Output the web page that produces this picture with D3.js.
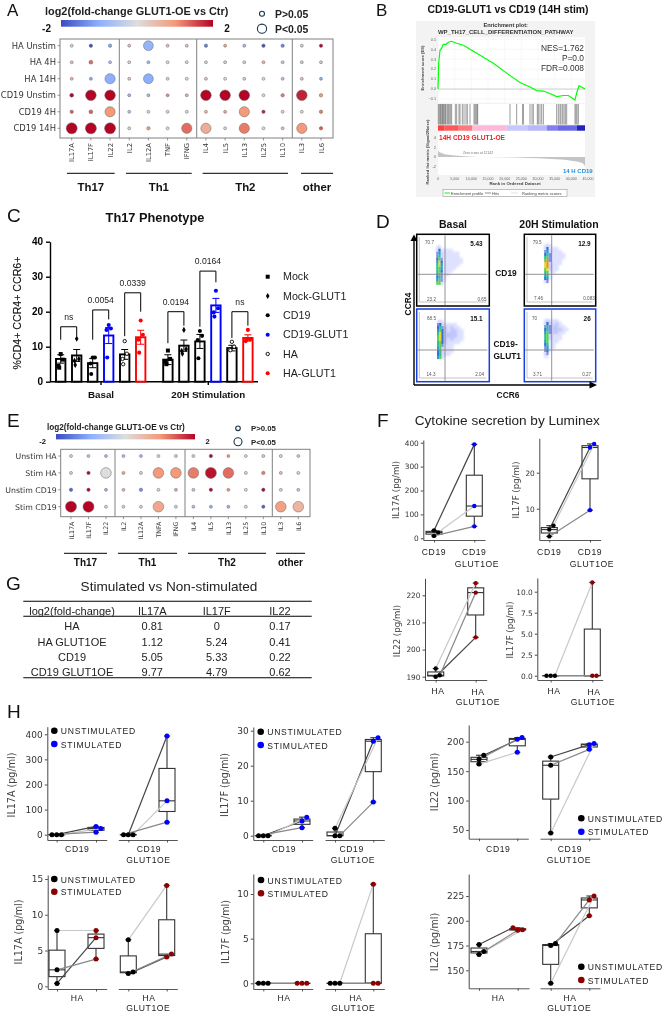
<!DOCTYPE html>
<html><head><meta charset="utf-8">
<script src="https://cdnjs.cloudflare.com/ajax/libs/d3/7.8.5/d3.min.js"></script>
<style>html,body{margin:0;padding:0;background:#fff}svg{display:block;filter:blur(.3px)}</style>
</head><body><svg id="fig" width="663" height="1013"></svg>
<script>
// ---------- DATA ----------
const aRows=["HA Unstim","HA 4H","HA 14H","CD19 Unstim","CD19 4H","CD19 14H"];
const aCols=["IL17A","IL17F","IL22","IL2","IL12A","TNF","IFNG","IL4","IL5","IL13","IL25","IL10","IL3","IL6"];
const aValues=[
[.3,-2,-1.1,.5,-.9,.5,.5,-1.5,.9,-.9,-1.9,-1.4,.3,2],
[.4,1.3,-.6,.3,-.8,.1,.1,.2,-.3,.3,.6,-.4,.3,-.3],
[.6,-1,-1,.4,-1,-.2,-.1,.4,-.1,.3,-.1,-.6,.4,-1],
[2,2,2,-.9,-.8,1.1,.7,2,2,2,-.1,1.2,1.8,1],
[1.4,1.4,1,-.6,.2,.2,.1,.6,.8,1,1.8,.3,.1,1.2],
[2,2,2,.2,.9,.1,1.3,.7,-.1,1.2,-.1,.5,1,1.4]];
const aSig=[
[0,.05,.05,0,.85,0,0,.05,0,0,.05,.05,0,.05],
[0,.1,0,0,0,0,0,0,0,0,0,0,0,0],
[0,0,.9,0,.85,0,0,0,0,0,0,0,0,0],
[.1,.95,.95,0,0,0,0,.95,.95,.95,0,.05,.95,.05],
[.05,.1,.9,0,0,0,0,0,0,.9,.05,0,0,.05],
[1,1,1,0,.05,0,.9,.9,0,.9,0,0,.9,.05]];
const eRows=["Unstim HA","Stim HA","Unstim CD19","Stim CD19"];
const eCols=["IL17A","IL17F","IL22","IL2","IL12A","TNFA","IFNG","IL4","IL5","IL13","IL25","IL10","IL3","IL6"];
const eValues=[
[.2,-.5,-.6,-.7,-.7,.2,.2,.3,2,.9,0,.4,.2,-.3],
[.2,2,0,.9,.2,1,1,1.2,1.9,1.3,.1,1.2,.5,.2],
[-1.7,2,-.9,.6,-1.3,.2,.8,-.5,2,1,0,2,-.2,-.5],
[2,2,-.2,-.2,-.2,.8,-.2,-.6,-1,-.9,-.1,-1.8,.9,.6]];
const eSig=[
[0,0,0,0,0,0,0,0,.05,0,0,0,0,0],
[0,.05,.95,0,0,.95,.95,.95,1,.95,0,.05,0,0],
[.05,.05,0,0,.05,0,0,0,.05,0,0,.05,0,0],
[1,1,0,0,0,.95,0,0,0,0,0,.03,.95,.95]];

const esCurve=[[0,0],[200,.26],[600,.39],[1100,.41],[1600,.45],[2400,.45],[3100,.47],[4100,.48],[5600,.46],[7600,.44],[9600,.40],[12600,.34],[16600,.26],[20600,.16],[24600,.065],[27600,.02],[29600,-.015],[31600,-.02],[33600,-.045],[35600,-.075],[37600,-.065],[39100,-.065],[41100,-.11],[41600,-.04],[42300,.035],[44100,0]];
const hitRanks=[100,400,700,900,1200,1400,1600,1900,2200,2400,2800,3100,3400,3800,4100,5200,5600,6300,6600,7300,7800,8400,8800,9600,10800,11100,11400,11700,11900,21600,23600,25400,25600,27600,28200,28600,29800,30100,30600,31100,31600,35600,36100,36600,36900,37400,37800,38200,38600,41100,41400,41700,42100];
const rankStrip=[[0,2000,'#ff4040'],[2000,6000,'#ff5858'],[6000,10200,'#ff7a7a'],[10200,20600,'#ffb8d8'],[20600,27000,'#c8c8ff'],[27000,32600,'#b8b8f8'],[32600,36000,'#8080f0'],[36000,41600,'#6a6ae8'],[41600,44100,'#2222c0']];
const rankMetric=[[0,1.4],[300,1.0],[2000,.55],[5000,.3],[8000,.15],[12142,0],[20000,-.08],[30000,-.3],[38000,-.6],[42000,-1],[43500,-1.3],[44100,-1.9]];
const esTicks=[-.1,0,.1,.2,.3,.4,.5], rankTicks=d3.range(0,45001,5000), metricTicks=[-2,0,2,4];

const cGroups=["Mock","Mock-GLUT1","CD19","CD19-GLUT1","HA","HA-GLUT1"];
const cColors=["#000","#000","#000","#00f","#000","#f00"];
const cMeans=[6.5,7.5,5.3,13.2,7.8,12.7,6.3,10.3,11.5,21.8,9.6,12.5];
const cErrs=[1.2,1.7,1.3,2.3,1.4,2,1.4,1.6,2,2,.8,.9];
const cDots=[[7.9,6.3,4.5,4],[12.3,6.5,6,4.8],[6.9,6.9,5.2,2.2],[16.2,15.2,14.8,6.9],[11.6,8,6.5,5],[17.5,13.4,12,8.3],
[8.9,6.5,5.7,5],[14.8,9.3,8.8,8],[14.5,13.1,11.9,6.7],[26,21,19.8,18.6],[11.4,10,9.2,9],[14.8,12.1,11.6,11.9]];
const cBrackets=[["ns",0,1,15.7,12,13],["0.0054",2,3,20.5,12,17.8],["0.0339",4,5,25.4,13,20],["0.0194",6,7,20,11,16],["0.0164",8,9,31.6,15.7,28.4],["ns",10,11,20,12.5,16]];
const cTicks=[0,10,20,30,40];

const flowBasalCd19=["120000000","241111000","352111110","362111110","473111111","584111111","685111110","675111100","674111000","573110000","463100000","573100000","772000000"];
const flowStimCd19=["012100000","024111000","035211100","046311110","067311110","079311100","089211100","089211000","078211000","067110000","056100000","045100000","023000000"];
const flowBasalGlut=["121000000","342111100","463212110","574212211","684222211","784222211","784212111","674211110","673111000","572111000","462111000","462110000","572000000"];
const flowStimGlut=["012111000","024212100","036322110","046322211","057322110","067211100","067211100","057111000","046110000","035110000","034100000","023000000","011000000"];
const flowGates=[["70.7","5.43","23.2","0.65"],["79.5","12.9","7.46","0.083"],["68.5","15.1","14.3","2.04"],["70","26","3.71","0.27"]];

const gHead=["log2(fold-change)","IL17A","IL17F","IL22"];
const gRowNames=["HA","HA GLUT1OE","CD19","CD19 GLUT1OE"];
const gIl17a=["0.81","1.12","5.05","9.77"],gIl17f=["0","5.24","5.33","4.79"],gIl22=["0.17","0.41","0.22","0.62"];

// cytokine values: index 0 / 1 / 2 is the same donor before and after
const z3=[0,0,0];
const cd19Il17aStim=[33,25,10],cd19gIl17aStim=[393,135,50];
const cd19Il17fStim=[4.2,5.3,2.3],cd19gIl17fStim=[27,28,9.6],cd19gIl17fUn=[0,2.1,0];
const haIl22Stim=[190,193,190.5],hagIl22Stim=[204.5,224.5,221];
const hagIl17fStim=[0,11.1,0];
const cd19Il22Un=[177,162,170],cd19Il22Stim=[207,182,204],cd19gIl22Un=[174,45,160],cd19gIl22Stim=[195,197,187];
const haIl17aUn=[.4,7.8,2.3],haIl17aStim=[6.8,7.8,3.8],hagIl17aUn=[2,6.5,1.8],hagIl17aStim=[4.1,14.1,4.5];
const haIl22Un=[176,166,169],haIl22StimB=[193,191,190.5],hagIl22Un=[175,137,177],hagIl22StimB=[205,225,221];
const donorGreys=["#444","#c8c8c8","#888"];

// ---------- HELPERS ----------
const ARIAL='"Liberation Sans",Arial,sans-serif', DEJA='"DejaVu Sans",sans-serif';
const svg=d3.select("#fig");
function T(p,x,y,s,size,o={}){
  const t=p.append("text").attr("x",x).attr("y",y).text(s)
   .attr("font-family",o.font||ARIAL).attr("font-size",size).attr("fill",o.fill||"#111")
   .attr("text-anchor",o.anchor||"start");
  if(o.bold)t.attr("font-weight","bold");
  if(o.rot!=null)t.attr("transform",`rotate(${o.rot} ${x} ${y})`);
  if(o.ls)t.attr("letter-spacing",o.ls);
  return t;
}
const L=(p,x1,y1,x2,y2,c="#000",w=1)=>p.append("line").attr("x1",x1).attr("y1",y1).attr("x2",x2).attr("y2",y2).attr("stroke",c).attr("stroke-width",w);
const coolStops=["#3b4cc0","#8db0fe","#dddddd","#f49a7b","#b40426"];
const cool=d3.scaleLinear().domain([-2,-1,0,1,2]).range(coolStops);
const rSig=d3.scaleLinear().domain([0,1]).range([1.5,5.5]);

const defs=svg.append("defs");
const grad=defs.append("linearGradient").attr("id","cool");
grad.selectAll("stop").data(coolStops).join("stop").attr("offset",(d,i)=>i*25+"%").attr("stop-color",d=>d);
defs.append("filter").attr("id","soft").append("feGaussianBlur").attr("stdDeviation",.45);
defs.append("filter").attr("id","softer").append("feGaussianBlur").attr("stdDeviation",1.3);

[["A",7,16,17],["B",376,16,17],["C",7,222,19],["D",376,228,19],["E",7,427,19],["F",377,427,19],["G",6,590,19],["H",7,718,19]].forEach(d=>T(svg,d[1],d[2],d[0],d[3]));

function bubble(cfg){
  const g=svg.append("g");
  const x=d3.scalePoint().domain(cfg.cols).range(cfg.xr);
  const y=d3.scalePoint().domain(cfg.rows).range(cfg.yr);
  const cells=cfg.values.flatMap((r,i)=>r.map((v,j)=>({v,s:cfg.sig[i][j],row:cfg.rows[i],col:cfg.cols[j]})));
  g.append("rect").attr("x",cfg.box[0]).attr("y",cfg.box[1]).attr("width",cfg.box[2]-cfg.box[0]).attr("height",cfg.box[3]-cfg.box[1]).attr("fill","#fff").attr("stroke","#808080").attr("stroke-width",1);
  cfg.seps.forEach(s=>L(g,s,cfg.box[1],s,cfg.box[3],"#808080",1));
  g.selectAll("circle").data(cells).join("circle").attr("cx",d=>x(d.col)).attr("cy",d=>y(d.row))
   .attr("r",d=>rSig(d.s)).attr("fill",d=>cool(d.v)).attr("stroke","#666").attr("stroke-width",.5);
  g.selectAll(".rl").data(cfg.rows).join("text").attr("class","rl").attr("x",cfg.box[0]-4).attr("y",d=>y(d)+3).attr("text-anchor","end").attr("font-family",DEJA).attr("font-size",cfg.rowSize).attr("fill","#333").text(d=>d);
  g.selectAll(".rt").data(cfg.rows).join("line").attr("class","rt").attr("x1",cfg.box[0]-2.5).attr("x2",cfg.box[0]).attr("y1",d=>y(d)).attr("y2",d=>y(d)).attr("stroke","#555").attr("stroke-width",.6);
  g.selectAll(".ct").data(cfg.cols).join("line").attr("class","ct").attr("y1",cfg.box[3]).attr("y2",cfg.box[3]+2.5).attr("x1",d=>x(d)).attr("x2",d=>x(d)).attr("stroke","#555").attr("stroke-width",.6);
  g.selectAll(".cl").data(cfg.cols).join("text").attr("class","cl").attr("text-anchor","end").attr("font-family",DEJA).attr("font-size",cfg.colSize).attr("fill","#333")
   .attr("transform",d=>`translate(${x(d)+2.5},${cfg.box[3]+5}) rotate(-90)`).text(d=>d);
  g.append("rect").attr("x",cfg.bar[0]).attr("y",cfg.bar[1]).attr("width",cfg.bar[2]).attr("height",cfg.bar[3]).attr("fill","url(#cool)");
  T(g,cfg.title[0],cfg.title[1],"log2(fold-change GLUT1-OE vs Ctr)",cfg.title[2],{bold:1,fill:"#222"});
  T(g,cfg.lo[0],cfg.lo[1],"-2",cfg.lo[2],{bold:1,anchor:"middle"});
  T(g,cfg.hi[0],cfg.lo[1],"2",cfg.lo[2],{bold:1,anchor:"middle"});
  cfg.leg.forEach(d=>{
    g.append("circle").attr("cx",cfg.legX).attr("cy",d[0]).attr("r",d[1]).attr("fill","#fff").attr("stroke","#16384d").attr("stroke-width",1.1);
    T(g,cfg.legX+cfg.legDx,d[0]+cfg.legSize*.37,d[2],cfg.legSize,{bold:1,fill:"#222"});
  });
  cfg.groups.forEach(d=>{L(g,d[0],cfg.gy,d[1],cfg.gy,"#000",1);T(g,(d[0]+d[1])/2,cfg.gly,d[2],cfg.gSize,{bold:1,anchor:"middle"});});
}
bubble({rows:aRows,cols:aCols,values:aValues,sig:aSig,box:[60,39,333,138],xr:[71.7,321],yr:[45.7,128.3],seps:[119.3,196.7,292.3],rowSize:8.4,colSize:6.8,
 bar:[61,20,152,6.7],title:[45,15,10.9],lo:[46.5,32,10],hi:[227],leg:[[13.7,2.5,"P>0.05"],[28.7,4.6,"P<0.05"]],legX:262,legDx:13,legSize:10.4,
 groups:[[67,114.7,"Th17"],[126,191.7,"Th1"],[202.7,288,"Th2"],[301,333,"other"]],gy:173.3,gly:191,gSize:11.4});
bubble({rows:eRows,cols:eCols,values:eValues,sig:eSig,box:[60.7,449.3,310,516.7],xr:[71,298.3],yr:[456,506.7],seps:[115,185,272.3],rowSize:7.8,colSize:6.3,
 bar:[56,434,139,5.4],title:[47,430,8.2],lo:[42.5,444,7.5],hi:[207.7],leg:[[428.3,2.3,"P>0.05"],[441.7,4,"P<0.05"]],legX:238,legDx:13,legSize:7.8,
 groups:[[64,107,"Th17"],[118,177,"Th1"],[188,266,"Th2"],[276,305,"other"]],gy:553.3,gly:566,gSize:10});

// ---------- B ----------
(function(){
 const g=svg.append("g");
 T(g,508,13,"CD19-GLUT1 vs CD19 (14H stim)",10.4,{bold:1,anchor:"middle"});
 g.append("rect").attr("x",416).attr("y",21).attr("width",179).attr("height",176).attr("fill","#f3f3f3");
 const x=d3.scaleLinear().domain([0,45000]).range([438,588]);
 const yES=d3.scaleLinear().domain([-.1,.5]).range([99,39.3]);
 const yM=d3.scaleLinear().domain([-2,4]).range([166.7,137.3]);
 [[37.3,102.7],[104,124.5],[131,175]].forEach(d=>g.append("rect").attr("x",438).attr("y",d[0]).attr("width",147).attr("height",d[1]-d[0]).attr("fill","#fff"));
 T(g,505.7,26.5,"Enrichment plot:",5.6,{bold:1,anchor:"middle",fill:"#333"});
 T(g,505.7,34,"WP_TH17_CELL_DIFFERENTIATION_PATHWAY",6,{bold:1,anchor:"middle",fill:"#333"});
 g.selectAll(".gv").data(rankTicks.filter(d=>d<=44000)).join("line").attr("class","gv").attr("x1",d=>x(d)).attr("x2",d=>x(d)).attr("y1",37.3).attr("y2",102.7).attr("stroke","#eee").attr("stroke-width",.4);
 g.selectAll(".gh").data(esTicks).join("line").attr("class","gh").attr("x1",438).attr("x2",585).attr("y1",d=>yES(d)).attr("y2",d=>yES(d)).attr("stroke",d=>d==0?"#999":"#eee").attr("stroke-width",.5);
 g.append("path").attr("d",d3.line().x(d=>x(d[0])).y(d=>yES(d[1]))(esCurve)).attr("fill","none").attr("stroke","#0f0").attr("stroke-width",1.2);
 g.selectAll(".es").data(esTicks).join("text").attr("class","es").attr("x",436).attr("y",d=>yES(d)+1.3).attr("text-anchor","end").attr("font-size",3.8).attr("font-family",ARIAL).attr("fill","#666").text(d3.format(".1f"));
 g.selectAll(".hit").data(hitRanks).join("line").attr("class","hit").attr("x1",d=>x(d)).attr("x2",d=>x(d)).attr("y1",104).attr("y2",124.5).attr("stroke","#333").attr("stroke-width",.7).attr("opacity",.7);
 g.selectAll(".st").data(rankStrip).join("rect").attr("class","st").attr("x",d=>x(d[0])).attr("width",d=>x(d[1])-x(d[0])).attr("y",125.3).attr("height",5.4).attr("fill",d=>d[2]);
 g.append("path").attr("d",d3.area().x(d=>x(d[0])).y0(yM(0)).y1(d=>yM(d[1]))(rankMetric)).attr("fill","#c4c4c4");
 g.selectAll(".mt").data(metricTicks).join("text").attr("class","mt").attr("x",436).attr("y",d=>yM(d)+1.5).attr("text-anchor","end").attr("font-size",4).attr("font-family",ARIAL).attr("fill","#666").text(d=>d);
 g.selectAll(".rk").data(rankTicks).join("text").attr("class","rk").attr("x",d=>x(d)).attr("y",179.5).attr("text-anchor","middle").attr("font-size",3.6).attr("font-family",ARIAL).attr("fill","#666").text(d3.format(","));
 T(g,439,139.5,"14H CD19 GLUT1-OE",6.6,{bold:1,fill:"#f02020"});
 T(g,563,173,"14 H CD19",6,{bold:1,fill:"#1f8fd6"});
 T(g,478,154,"Zero cross at 12142",3.4,{anchor:"middle",fill:"#777"});
 T(g,515,184.5,"Rank in Ordered Dataset",4.4,{anchor:"middle",fill:"#444",bold:1});
 T(g,424,68,"Enrichment score (ES)",4.2,{anchor:"middle",rot:-90,fill:"#444",bold:1});
 T(g,429,152,"Ranked list metric (Signal2Noise)",4.1,{anchor:"middle",rot:-90,fill:"#444",bold:1});
 [["NES=1.762",51],["P=0.0",61],["FDR=0.008",71]].forEach(d=>T(g,584,d[1],d[0],8.4,{anchor:"end",fill:"#333"}));
 g.append("rect").attr("x",443).attr("y",189.5).attr("width",124).attr("height",7).attr("fill","#fff").attr("stroke","#888").attr("stroke-width",.5);
 L(g,444.5,193,450,193,"#0f0",1);
 T(g,451,194.5,"Enrichment profile",4,{fill:"#444"});
 L(g,485,193,491,193,"#444",.6);
 T(g,492,194.5,"Hits",4,{fill:"#444"});
 L(g,511,193,518,193,"#ccc",.6);
 T(g,522,194.5,"Ranking metric scores",4,{fill:"#444"});
})();

// ---------- C ----------
(function(){
 const g=svg.append("g");
 T(g,155,222,"Th17 Phenotype",12.8,{bold:1,anchor:"middle"});
 const y=d3.scaleLinear().domain([0,40]).range([381.7,241.7]);
 const pos=i=>i<6?i:i+.7;
 const x=d3.scaleLinear().domain([0,11.7]).range([60.7,247.9]);
 const bars=cMeans.map((m,i)=>({m,e:cErrs[i],c:cColors[i%6],x:x(pos(i)),dots:cDots[i],k:i%6}));
 const ax=g.append("g").attr("transform","translate(50,0)").call(d3.axisLeft(y).tickValues(cTicks).tickSize(4).tickSizeOuter(0));
 ax.selectAll("text").attr("font-family",ARIAL).attr("font-size",10).attr("font-weight","bold").attr("fill","#000");
 ax.selectAll("path,line").attr("stroke","#000").attr("stroke-width",1.4);
 L(g,50,381.7,258,381.7,"#000",1.5);
 [101,208.3].forEach(d=>L(g,d,381.7,d,385,"#000",1.4));
 T(g,101,398,"Basal",9.8,{bold:1,anchor:"middle"});
 T(g,208.3,398,"20H Stimulation",9.8,{bold:1,anchor:"middle"});
 T(g,21,313,"%CD4+ CCR4+ CCR6+",10.6,{anchor:"middle",rot:-90,fill:"#111"}).attr("stroke","#111").attr("stroke-width",.15);
 g.selectAll(".bar").data(bars).join("rect").attr("class","bar").attr("x",d=>d.x-4.7).attr("width",9.4).attr("y",d=>y(d.m)).attr("height",d=>y(0)-y(d.m)).attr("fill","#fff").attr("stroke",d=>d.c).attr("stroke-width",1.9);
 const errPath=d=>`M${d.x},${y(d.m-d.e)}V${y(d.m+d.e)}M${d.x-3.5},${y(d.m+d.e)}H${d.x+3.5}M${d.x-3.5},${y(d.m-d.e)}H${d.x+3.5}`;
 g.selectAll(".err").data(bars).join("path").attr("class","err").attr("d",errPath).attr("fill","none").attr("stroke",d=>d.c).attr("stroke-width",1);
 const sym=[d3.symbolSquare,d3.symbolDiamond,d3.symbolCircle,d3.symbolCircle,d3.symbolCircle,d3.symbolCircle];
 const mark=(sel,k)=>sel.attr("d",d3.symbol(sym[k],k==0?16:k==1?11:k==4?9:13)()).attr("fill",k==4?"#fff":cColors[k]).attr("stroke",cColors[k]).attr("stroke-width",k==4?.9:0);
 bars.forEach(b=>{
   const offs=[0,2.2,-2.2,-1.5];
   g.append("g").selectAll("path").data(b.dots).join("path").attr("transform",(d,i)=>`translate(${b.x+offs[i]},${y(d)})`).call(mark,b.k);
 });
 const pts=i=>x(pos(i));
 cBrackets.forEach(b=>{
   const x1=pts(b[1]),x2=pts(b[2]);
   g.append("path").attr("d",`M${x1},${y(b[4])}V${y(b[3])}H${x2}V${y(b[5])}`).attr("fill","none").attr("stroke","#000").attr("stroke-width",1);
   T(g,(x1+x2)/2,y(b[3])-7,b[0],8.6,{anchor:"middle",fill:"#222"});
 });
 const leg=d3.scalePoint().domain(cGroups).range([276.7,373.3]);
 cGroups.forEach((n,k)=>{
   g.append("path").attr("transform",`translate(267.7,${leg(n)})`).call(mark,k);
   T(g,283,leg(n)+3.6,n,10.7,{fill:"#222"});
 });
})();

// ---------- D ----------
(function(){
 const g=svg.append("g");
 const dens=d3.scaleLinear().domain([0,1,2,3,4,5,6,7,8,9]).range(["#ffffff","#dcdfff","#bcc3fc","#8090ec","#3a70d8","#20a0d0","#30c090","#60d050","#e0d830","#f09020"]);
 const plots=[
  {m:flowBasalCd19,gate:flowGates[0],box:[416.7,234.3,489.3,306],c:"#000",vx:445,hy:274.3,ox:435.7,oy:245.7,tx:[428,482.7,429,478],ty:[244,245.5,300.7],b:[419.3,302]},
  {m:flowStimCd19,gate:flowGates[1],box:[524.3,234.3,595.7,306],c:"#000",vx:551.7,hy:274.3,ox:541.5,oy:244,tx:[535.7,590.7,536,585],ty:[244,245.5,300.3],b:[527,302]},
  {m:flowBasalGlut,gate:flowGates[2],box:[416.7,309,489.3,381.7],c:"#1a3fe0",vx:445,hy:350,ox:436.5,oy:320,tx:[430,482.7,428.5,475.7],ty:[319.5,320.5,376],b:[419.3,378]},
  {m:flowStimGlut,gate:flowGates[3],box:[524.3,309,595.7,381.7],c:"#1a3fe0",vx:551.7,hy:350,ox:541.5,oy:319,tx:[535,590.7,535,582.7],ty:[319.5,320.5,376],b:[527,378]}];
 plots.forEach(p=>{
   g.append("rect").attr("x",p.box[0]).attr("y",p.box[1]).attr("width",p.box[2]-p.box[0]).attr("height",p.box[3]-p.box[1]).attr("fill","#fff").attr("stroke",p.c).attr("stroke-width",1.5);
   L(g,p.b[0],p.box[1]+3,p.b[0],p.b[1],"#aaa",.7);L(g,p.b[0],p.b[1],p.box[2]-3,p.b[1],"#aaa",.7);
   const cells=p.m.flatMap((row,r)=>[...row].map((v,c)=>({r,c,v:+v}))).filter(d=>d.v>0);
   const fx=d3.scaleLinear().domain([0,3,9]).range([p.ox+.5,p.ox+7,p.ox+27]),fy=d3.scaleLinear().domain([0,13]).range([p.oy,p.oy+39]);
   const draw=(sel,data)=>sel.selectAll("rect").data(data).join("rect").attr("x",d=>fx(d.c)).attr("y",d=>fy(d.r)).attr("width",d=>fx(d.c+1)-fx(d.c)+.1).attr("height",3.1).attr("fill",d=>dens(d.v));
   g.append("g").attr("filter","url(#softer)").call(draw,cells.filter(d=>d.v<=2));
   g.append("g").attr("filter","url(#soft)").call(draw,cells.filter(d=>d.v>2));
   L(g,p.vx,p.box[1]+1,p.vx,p.box[3]-1,"#888",.9);L(g,p.b[0]-2,p.hy,p.box[2]-2,p.hy,"#888",.9);
   T(g,p.tx[0],p.ty[0],p.gate[0],4.6,{fill:"#555",anchor:"start"}).attr("dx",-3);
   T(g,p.tx[1],p.ty[1],p.gate[1],6.4,{bold:1,anchor:"end"});
   T(g,p.tx[2],p.ty[2],p.gate[2],4.6,{fill:"#555"}).attr("dx",-2);
   T(g,p.tx[3]+4,p.ty[2],p.gate[3],4.6,{fill:"#555",anchor:"middle"});
 });
 T(g,453,227.5,"Basal",10.5,{bold:1,anchor:"middle"});
 T(g,559,227.5,"20H Stimulation",10.5,{bold:1,anchor:"middle"});
 T(g,506,276,"CD19",8.4,{bold:1,anchor:"middle"});
 T(g,493.5,347,"CD19-",8.4,{bold:1});T(g,493.5,358.5,"GLUT1",8.4,{bold:1});
 T(g,411,304,"CCR4",8.4,{bold:1,anchor:"middle",rot:-90});
 T(g,508,398,"CCR6",8.4,{bold:1,anchor:"middle"});
 L(g,414,385,414,240,"#000",1.4);L(g,414,385,590,385,"#000",1.4);
 g.append("path").attr("d","M414,234.5L410.5,241H417.5Z");
 g.append("path").attr("d","M597,385L589.5,381.5V388.5Z");
})();

// ---------- G ----------
(function(){
 const g=svg.append("g");
 T(g,169,590.7,"Stimulated vs Non-stimulated",13.6,{anchor:"middle",fill:"#222"});
 const cols=[72,152.3,216.7,280];
 const rows=d3.scalePoint().domain(gRowNames).range([630.3,676]);
 [601.3,616.3,677.7].forEach(y=>L(g,23.3,y,311.7,y,"#000",1.1));
 g.selectAll(".h").data(gHead).join("text").attr("class","h").attr("x",(d,i)=>cols[i]).attr("y",615).attr("text-anchor","middle").attr("font-family",ARIAL).attr("font-size",11).attr("fill","#222").text(d=>d);
 const table=gRowNames.map((n,i)=>[n,gIl17a[i],gIl17f[i],gIl22[i]]);
 table.forEach((r,i)=>g.append("g").selectAll("text").data(r).join("text").attr("x",(d,j)=>cols[j]).attr("y",rows(gRowNames[i])).attr("text-anchor","middle").attr("font-family",ARIAL).attr("font-size",11).attr("fill","#222").text(d=>d));
})();

// ---------- F & H: paired boxplots ----------
function swarm(vals,y,d){
  const order=vals.map((v,i)=>[v,i]).sort((a,b)=>a[0]-b[0]);
  const placed=[],out=[];
  order.forEach(([v,i])=>{
    const py=y(v);
    for(const off of [0,d,-d,2*d,-2*d]){
      if(placed.every(p=>Math.hypot(p[0]-off,p[1]-py)>=d*.98)){placed.push([off,py]);out[i]=off;break;}
    }
  });
  return out;
}
function pair(g,x0,x1,y,a,b,color,o){
  const set=[[x0,a,"#000"],[x1,b,color]];
  const off=set.map(s=>swarm(s[1],y,o.r*1.9));
  set.forEach(([cx,v])=>{
    const s=[...v].sort(d3.ascending),q1=d3.quantile(s,.25),q2=d3.quantile(s,.5),q3=d3.quantile(s,.75);
    const lo=s[0],hi=s[2];
    const c=g.append("g").attr("stroke","#333").attr("stroke-width",1.1).attr("fill","none");
    if(hi!=lo){
      c.append("line").attr("x1",cx).attr("x2",cx).attr("y1",y(lo)).attr("y2",y(q1));
      c.append("line").attr("x1",cx).attr("x2",cx).attr("y1",y(q3)).attr("y2",y(hi));
      c.selectAll(".cap").data([lo,hi]).join("line").attr("class","cap").attr("x1",cx-3).attr("x2",cx+3).attr("y1",d=>y(d)).attr("y2",d=>y(d));
    }
    c.append("rect").attr("x",cx-8).attr("width",16).attr("y",y(q3)).attr("height",Math.max(y(q1)-y(q3),.1)).attr("fill","#fff");
    c.append("line").attr("x1",cx-8).attr("x2",cx+8).attr("y1",y(q2)).attr("y2",y(q2));
  });
  g.append("g").selectAll("line").data(a.map((v,i)=>({v,w:b[i],i}))).join("line")
   .attr("x1",d=>x0+off[0][d.i]).attr("x2",d=>x1+off[1][d.i]).attr("y1",d=>y(d.v)).attr("y2",d=>y(d.w))
   .attr("stroke",d=>donorGreys[d.i]).attr("stroke-width",1.2);
  set.forEach(([cx,v,c],k)=>g.append("g").selectAll("circle").data(v.map((d,i)=>({d,i}))).join("circle")
   .attr("cx",d=>cx+off[k][d.i]).attr("cy",d=>y(d.d)).attr("r",o.r).attr("fill",c));
}
function axes(cfg){
  const g=svg.append("g");
  const b=cfg.bottom,t=cfg.top;
  let y=d3.scaleLinear().domain([cfg.t0[0],cfg.t1[0]]).range([cfg.t0[1],cfg.t1[1]]);
  y=d3.scaleLinear().domain([y.invert(b),y.invert(t)]).range([b,t]);
  const ax=g.append("g").attr("transform",`translate(${cfg.x},0)`).call(d3.axisLeft(y).tickValues(cfg.ticks).tickSize(2.5).tickPadding(2).tickSizeOuter(0).tickFormat(cfg.fmt||(d=>d)));
  ax.selectAll("text").attr("font-family",DEJA).attr("font-size",cfg.tsize).attr("fill","#333");
  ax.selectAll("path,line").attr("stroke","#333").attr("stroke-width",.9);
  T(g,cfg.lab[0],cfg.lab[1],cfg.label,cfg.lsize,{font:DEJA,anchor:"middle",rot:-90,fill:"#444"});
  cfg.sets.forEach(s=>{
    const xs=d3.scaleLinear().domain([0,1]).range([s.x0,s.x1]);
    const xa=d3.scaleLinear().domain([xs.invert(s.l),xs.invert(s.r)]).range([s.l,s.r]);
    const xg=g.append("g").attr("transform",`translate(0,${b})`).call(d3.axisBottom(xa).tickValues([0,1]).tickSize(2.5).tickSizeOuter(0).tickFormat(""));
    xg.selectAll("path,line").attr("stroke","#444").attr("stroke-width",.9);
    pair(g,xs(0),xs(1),y,s.a,s.b,cfg.color,{r:cfg.r});
    s.text.forEach(d=>T(g,d[0],d[1],d[2],cfg.xsize,{anchor:"middle",fill:"#222",ls:.6}));
  });
  if(cfg.leg){
    [["UNSTIMULATED","#000"],["STIMULATED",cfg.color]].forEach((d,i)=>{
      const ly=cfg.leg[1+i];
      g.append("circle").attr("cx",cfg.leg[0]).attr("cy",ly).attr("r",3.3).attr("fill",d[1]);
      T(g,cfg.leg[0]+6.5,ly+3.6,d[0],8.6,{fill:"#222",ls:.75});
    });
  }
}
const RED="#8b0000",BLUE="#0000ff",RF=2.2,RH=2.5;
// F
T(svg,507.3,425,"Cytokine secretion by Luminex",13.6,{anchor:"middle",fill:"#222"});
axes({x:423.3,bottom:540,top:440,t0:[0,538.3],t1:[400,442.7],ticks:[0,100,200,300,400],tsize:7.4,label:"IL17A (pg/ml)",lab:[399,490],lsize:8.6,color:BLUE,r:RF,xsize:8.6,
 sets:[{x0:434,x1:474.3,l:423.3,r:485,a:cd19Il17aStim,b:cd19gIl17aStim,text:[[434,555,"CD19"],[474.3,555,"CD19"],[477,566.7,"GLUT1OE"]]}]});
axes({x:539.3,bottom:540,top:438.3,t0:[10,508.7],t1:[20,472.7],ticks:[10,20],tsize:7.4,label:"IL17F (pg/ml)",lab:[519,490],lsize:8.6,color:BLUE,r:RF,xsize:8.6,
 sets:[{x0:549.3,x1:590,l:539.3,r:600.7,a:cd19Il17fStim,b:cd19gIl17fStim,text:[[549.3,555,"CD19"],[590,555,"CD19"],[592,566.7,"GLUT1OE"]]}]});
axes({x:425,bottom:680,top:578.3,t0:[190,676.7],t1:[220,595.3],ticks:[190,200,210,220],tsize:7.4,label:"IL22 (pg/ml)",lab:[400,631],lsize:8.6,color:RED,r:RF,xsize:8.6,
 sets:[{x0:435.7,x1:475.7,l:425,r:486.7,a:haIl22Stim,b:hagIl22Stim,text:[[438,694,"HA"],[478,695,"HA"],[478,705,"GLUT1OE"]]}]});
axes({x:537.3,bottom:680,top:578,t0:[0,675.7],t1:[10,591.7],ticks:[0,2.5,5,7.5,10],fmt:d3.format(".1f"),tsize:7.4,label:"IL17F (pg/ml)",lab:[513,630],lsize:8.6,color:RED,r:RF,xsize:8.6,
 sets:[{x0:550.7,x1:592.3,l:537.3,r:602.7,a:z3,b:hagIl17fStim,text:[[554,694,"HA"],[594,695,"HA"],[593,705,"GLUT1OE"]]}]});
// H
axes({x:47.3,bottom:840,top:726.7,t0:[0,834.7],t1:[400,734.3],ticks:[0,100,200,300,400],tsize:9,label:"IL17A (pg/ml)",lab:[15,785],lsize:9.6,color:BLUE,r:RH,xsize:8.6,leg:[54.3,730.7,744],
 sets:[{x0:56.7,x1:96,l:47.3,r:106.7,a:z3,b:cd19Il17aStim,text:[[77.3,851.7,"CD19"]]},{x0:128.3,x1:167,l:118.3,r:177.3,a:z3,b:cd19gIl17aStim,text:[[149,851.7,"CD19"],[148.5,863.3,"GLUT1OE"]]}]});
axes({x:253.3,bottom:840,top:727,t0:[0,835.7],t1:[30,730.7],ticks:[0,10,20,30],tsize:9,label:"IL17F (pg/ml)",lab:[228,785],lsize:9.6,color:BLUE,r:RH,xsize:8.6,leg:[260.7,731.7,745],
 sets:[{x0:263.3,x1:302,l:253.3,r:312.7,a:z3,b:cd19Il17fStim,text:[[284,851.7,"CD19"]]},{x0:335,x1:373.3,l:325,r:384.3,a:cd19gIl17fUn,b:cd19gIl17fStim,text:[[351.7,851.7,"CD19"],[353,863.3,"GLUT1OE"]]}]});
axes({x:468.7,bottom:838.7,top:725,t0:[50,830],t1:[200,741.7],ticks:[50,100,150,200],tsize:9,label:"IL22 (pg/ml)",lab:[437.5,782],lsize:9.6,color:BLUE,r:RH,xsize:8.6,leg:[581.3,818.3,831.7],
 sets:[{x0:479,x1:517.3,l:468.7,r:528.3,a:cd19Il22Un,b:cd19Il22Stim,text:[[498.3,851.7,"CD19"]]},{x0:550.7,x1:589.3,l:540,r:600,a:cd19gIl22Un,b:cd19gIl22Stim,text:[[570,851.7,"CD19"],[569,863.3,"GLUT1OE"]]}]});
axes({x:47.7,bottom:989,top:875,t0:[0,986.3],t1:[15,879],ticks:[0,5,10,15],tsize:9,label:"IL17A (pg/ml)",lab:[21.5,932],lsize:9.6,color:RED,r:RH,xsize:8.6,leg:[54.3,879,891.7],
 sets:[{x0:57,x1:96,l:47.7,r:106.7,a:haIl17aUn,b:haIl17aStim,text:[[77.3,1000.7,"HA"]]},{x0:128.3,x1:166.7,l:118.3,r:177.3,a:hagIl17aUn,b:hagIl17aStim,text:[[149,1000.7,"HA"],[148.3,1011,"GLUT1OE"]]}]});
axes({x:253.3,bottom:989,top:874,t0:[0,983.3],t1:[10,894],ticks:[0,5,10],tsize:9,label:"IL17F (pg/ml)",lab:[229,932],lsize:9.6,color:RED,r:RH,xsize:8.6,leg:[261,880,893.3],
 sets:[{x0:263.3,x1:302,l:253.3,r:312.7,a:z3,b:z3,text:[[284,1000.7,"HA"]]},{x0:335,x1:373.3,l:325,r:384.3,a:z3,b:hagIl17fStim,text:[[355.7,1000.7,"HA"],[353.3,1011,"GLUT1OE"]]}]});
axes({x:468.7,bottom:988.3,top:874,t0:[150,970.3],t1:[225,896],ticks:[150,175,200,225],tsize:9,label:"IL22 (pg/ml)",lab:[437.5,942],lsize:9.6,color:RED,r:RH,xsize:8.6,leg:[581.3,966.7,980],
 sets:[{x0:479,x1:517.7,l:468.7,r:529,a:haIl22Un,b:haIl22StimB,text:[[498.3,1000.7,"HA"]]},{x0:550.7,x1:589.3,l:540,r:600,a:hagIl22Un,b:hagIl22StimB,text:[[570,1000.7,"HA"],[569.3,1011,"GLUT1OE"]]}]});
</script></body></html>
